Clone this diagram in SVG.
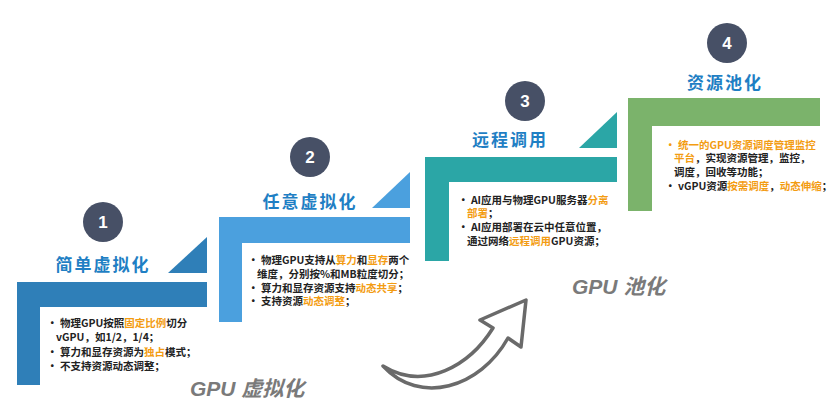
<svg xmlns="http://www.w3.org/2000/svg" width="837" height="413" viewBox="0 0 837 413">
<style>
.t{font-family:"Noto Sans CJK SC","Liberation Sans",sans-serif;font-size:10.5px;font-weight:bold;fill:#222}
.o{fill:#f39c12}
.h{font-family:"Noto Sans CJK SC",sans-serif;font-size:17px;font-weight:bold;fill:#1f7fc4;text-anchor:middle;letter-spacing:2px}
.c{fill:#475066}
.n{font-family:"Liberation Sans",sans-serif;font-size:17px;font-weight:bold;fill:#fff;text-anchor:middle}
.g{font-family:"Liberation Sans","Noto Sans CJK SC",sans-serif;font-size:21px;font-weight:bold;font-style:italic;fill:#7a7a7a}
</style>
<rect width="837" height="413" fill="#fff"/>
<g id="step1">
<path d="M17 282H207V307H40V385H17Z" fill="#2f7fb8"/>
<path d="M168 273L207 237V273Z" fill="#2f7fb8"/>
<circle cx="103" cy="222" r="20" class="c"/><text x="103" y="228" class="n">1</text>
<text x="103" y="271" class="h">简单虚拟化</text>
<text class="t"><tspan x="47" y="327">• 物理GPU按照<tspan class="o">固定比例</tspan>切分</tspan><tspan x="56" y="341">vGPU，如1/2，1/4；</tspan><tspan x="47" y="356">• 算力和显存资源为<tspan class="o">独占</tspan>模式；</tspan><tspan x="47" y="370">• 不支持资源动态调整；</tspan></text>
</g>
<g id="step2">
<path d="M219 217H410V243H242V322H219Z" fill="#4ba0de"/>
<path d="M372 208L410 172V208Z" fill="#4ba0de"/>
<circle cx="310" cy="157" r="20" class="c"/><text x="310" y="163" class="n">2</text>
<text x="310" y="208" class="h">任意虚拟化</text>
<text class="t"><tspan x="248" y="264">• 物理GPU支持从<tspan class="o">算力</tspan>和<tspan class="o">显存</tspan>两个</tspan><tspan x="257" y="278">维度，分别按%和MB粒度切分；</tspan><tspan x="248" y="292">• 算力和显存资源支持<tspan class="o">动态共享</tspan>；</tspan><tspan x="248" y="305">• 支持资源<tspan class="o">动态调整</tspan>；</tspan></text>
</g>
<g id="step3">
<path d="M425 157H617V182H449V261H425Z" fill="#2ba6a6"/>
<path d="M579 148L617 112V148Z" fill="#2ba6a6"/>
<circle cx="525" cy="101" r="20" class="c"/><text x="525" y="107" class="n">3</text>
<text x="510" y="146" class="h">远程调用</text>
<text class="t"><tspan x="458" y="204">• AI应用与物理GPU服务器<tspan class="o">分离</tspan></tspan><tspan x="467" y="217"><tspan class="o">部署</tspan>；</tspan><tspan x="458" y="231">• AI应用部署在云中任意位置，</tspan><tspan x="467" y="245">通过网络<tspan class="o">远程调用</tspan>GPU资源；</tspan></text>
</g>
<g id="step4">
<path d="M628 98H820V126H652V211H628Z" fill="#7bb36b"/>
<circle cx="727" cy="43" r="20" class="c"/><text x="727" y="49" class="n">4</text>
<text x="725" y="89" class="h">资源池化</text>
<text class="t"><tspan x="665" y="149" class="o">• 统一的GPU资源调度管理监控</tspan><tspan x="674" y="162"><tspan class="o">平台</tspan>，实现资源管理，监控，</tspan><tspan x="674" y="176">调度，回收等功能；</tspan><tspan x="665" y="190">• vGPU资源<tspan class="o">按需调度</tspan>，<tspan class="o">动态伸缩</tspan>；</tspan></text>
</g>
<g id="connectors">
<path d="M383 366C425 392 470 365 493 328L480 320L526 300L521 347L508 338C480 388 420 406 383 366Z" fill="#fff" stroke="#6a6a6a" stroke-width="3.5" stroke-linejoin="round"/>
</g>
<text x="190" y="396" class="g">GPU 虚拟化</text>
<text x="572" y="294" class="g">GPU 池化</text>
</svg>
